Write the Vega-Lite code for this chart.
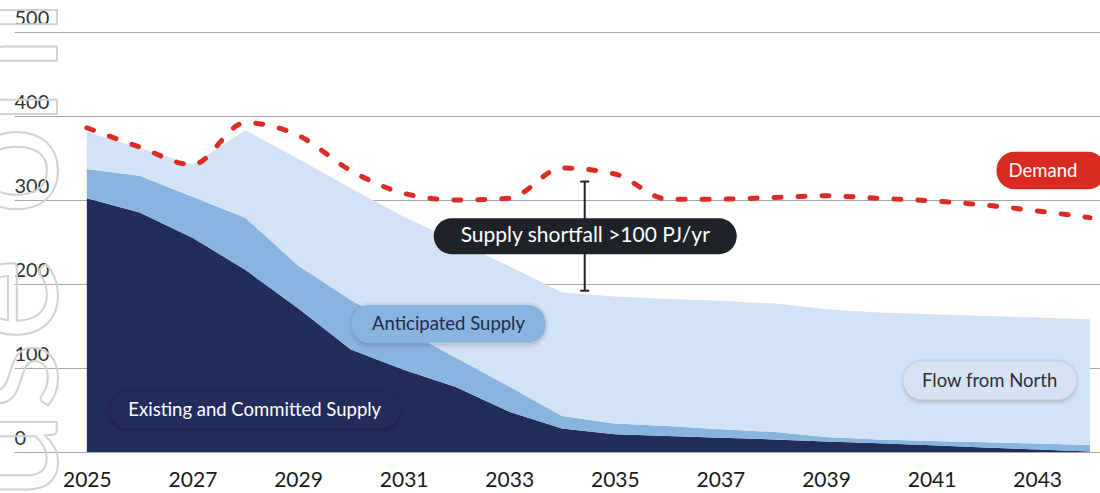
{
  "$schema": "https://vega.github.io/schema/vega-lite/v6.json",
  "width": 1086,
  "height": 420,
  "autosize": {"type": "none"},
  "padding": {"left": 14, "top": 32, "right": 0, "bottom": 41},
  "background": "white",
  "config": {"view": {"stroke": null}, "font": "Lato"},
  "datasets": {
    "supply": [
      {"year": 2025, "series": "Existing and Committed Supply", "value": 302},
      {"year": 2026, "series": "Existing and Committed Supply", "value": 285},
      {"year": 2027, "series": "Existing and Committed Supply", "value": 255},
      {"year": 2028, "series": "Existing and Committed Supply", "value": 217},
      {"year": 2029, "series": "Existing and Committed Supply", "value": 171},
      {"year": 2030, "series": "Existing and Committed Supply", "value": 122},
      {"year": 2031, "series": "Existing and Committed Supply", "value": 98},
      {"year": 2032, "series": "Existing and Committed Supply", "value": 77},
      {"year": 2033, "series": "Existing and Committed Supply", "value": 48},
      {"year": 2034, "series": "Existing and Committed Supply", "value": 28},
      {"year": 2035, "series": "Existing and Committed Supply", "value": 21},
      {"year": 2036, "series": "Existing and Committed Supply", "value": 19},
      {"year": 2037, "series": "Existing and Committed Supply", "value": 17},
      {"year": 2038, "series": "Existing and Committed Supply", "value": 15},
      {"year": 2039, "series": "Existing and Committed Supply", "value": 12.5},
      {"year": 2040, "series": "Existing and Committed Supply", "value": 10.5},
      {"year": 2041, "series": "Existing and Committed Supply", "value": 8},
      {"year": 2042, "series": "Existing and Committed Supply", "value": 5.5},
      {"year": 2043, "series": "Existing and Committed Supply", "value": 3},
      {"year": 2044, "series": "Existing and Committed Supply", "value": 0.5},
      {"year": 2025, "series": "Anticipated Supply", "value": 35},
      {"year": 2026, "series": "Anticipated Supply", "value": 44},
      {"year": 2027, "series": "Anticipated Supply", "value": 49},
      {"year": 2028, "series": "Anticipated Supply", "value": 62},
      {"year": 2029, "series": "Anticipated Supply", "value": 51},
      {"year": 2030, "series": "Anticipated Supply", "value": 59},
      {"year": 2031, "series": "Anticipated Supply", "value": 48},
      {"year": 2032, "series": "Anticipated Supply", "value": 35},
      {"year": 2033, "series": "Anticipated Supply", "value": 30},
      {"year": 2034, "series": "Anticipated Supply", "value": 15},
      {"year": 2035, "series": "Anticipated Supply", "value": 13},
      {"year": 2036, "series": "Anticipated Supply", "value": 12},
      {"year": 2037, "series": "Anticipated Supply", "value": 10},
      {"year": 2038, "series": "Anticipated Supply", "value": 9},
      {"year": 2039, "series": "Anticipated Supply", "value": 5.5},
      {"year": 2040, "series": "Anticipated Supply", "value": 4.5},
      {"year": 2041, "series": "Anticipated Supply", "value": 5},
      {"year": 2042, "series": "Anticipated Supply", "value": 6.2},
      {"year": 2043, "series": "Anticipated Supply", "value": 7},
      {"year": 2044, "series": "Anticipated Supply", "value": 7.8},
      {"year": 2025, "series": "Flow from North", "value": 44},
      {"year": 2026, "series": "Flow from North", "value": 33},
      {"year": 2027, "series": "Flow from North", "value": 38},
      {"year": 2028, "series": "Flow from North", "value": 104},
      {"year": 2029, "series": "Flow from North", "value": 127},
      {"year": 2030, "series": "Flow from North", "value": 133},
      {"year": 2031, "series": "Flow from North", "value": 134},
      {"year": 2032, "series": "Flow from North", "value": 139},
      {"year": 2033, "series": "Flow from North", "value": 143},
      {"year": 2034, "series": "Flow from North", "value": 147},
      {"year": 2035, "series": "Flow from North", "value": 151},
      {"year": 2036, "series": "Flow from North", "value": 151},
      {"year": 2037, "series": "Flow from North", "value": 153},
      {"year": 2038, "series": "Flow from North", "value": 153},
      {"year": 2039, "series": "Flow from North", "value": 152},
      {"year": 2040, "series": "Flow from North", "value": 151},
      {"year": 2041, "series": "Flow from North", "value": 151},
      {"year": 2042, "series": "Flow from North", "value": 150.3},
      {"year": 2043, "series": "Flow from North", "value": 150},
      {"year": 2044, "series": "Flow from North", "value": 149.7}
    ],
    "demand": [
      {"year": 2025, "value": 386},
      {"year": 2026, "value": 363},
      {"year": 2027, "value": 342},
      {"year": 2028, "value": 392},
      {"year": 2029, "value": 377},
      {"year": 2030, "value": 335},
      {"year": 2031, "value": 308},
      {"year": 2032, "value": 300},
      {"year": 2033, "value": 302},
      {"year": 2034, "value": 338},
      {"year": 2035, "value": 331},
      {"year": 2036, "value": 301},
      {"year": 2037, "value": 301},
      {"year": 2038, "value": 303},
      {"year": 2039, "value": 305},
      {"year": 2040, "value": 302},
      {"year": 2041, "value": 299},
      {"year": 2042, "value": 294},
      {"year": 2043, "value": 287},
      {"year": 2044, "value": 279}
    ],
    "badges": [
      {"label": "Supply shortfall >100 PJ/yr", "year_start": 2031.57, "year_end": 2037.31, "low": 235.4, "high": 278.2, "text_year": 2034.44, "text_value": 256.8},
      {"label": "Demand", "year_start": 2042.23, "year_end": 2044.3, "low": 312.7, "high": 357.5, "text_year": 2043.11, "text_value": 335.1},
      {"label": "Flow from North", "year_start": 2040.47, "year_end": 2043.74, "low": 62.7, "high": 107.5, "text_year": 2042.1, "text_value": 85.1},
      {"label": "Anticipated Supply", "year_start": 2030.01, "year_end": 2033.69, "low": 130.1, "high": 175, "text_year": 2031.85, "text_value": 152.6},
      {"label": "Existing and Committed Supply", "year_start": 2025.44, "year_end": 2030.93, "low": 28.2, "high": 71.8, "text_year": 2028.18, "text_value": 50}
    ],
    "gap": [
      {"year": 2034.43, "low": 192, "high": 322}
    ],
    "caps": [
      {"year": 2034.43, "value": 192},
      {"year": 2034.43, "value": 322}
    ],
    "watermark": [
      {"year": 2024.43, "value": -57, "text": "use only"}
    ]
  },
  "encoding": {
    "x": {
      "type": "quantitative",
      "title": null,
      "scale": {"domain": [2023.62, 2044.19], "nice": false, "zero": false},
      "axis": {"values": [2025, 2027, 2029, 2031, 2033, 2035, 2037, 2039, 2041, 2043], "format": "d", "title": null, "grid": false, "domain": false, "ticks": false, "labelFontSize": 21, "labelColor": "#1a1a1a", "labelPadding": 17, "labelFont": "Lato", "labelFlush": false, "labelOverlap": false}
    },
    "y": {
      "type": "quantitative",
      "title": null,
      "scale": {"domain": [0, 500], "nice": false},
      "axis": {"values": [0, 100, 200, 300, 400, 500], "title": null, "grid": true, "gridColor": "#a8a8a8", "gridWidth": 1, "domain": false, "ticks": false, "tickSize": 0, "labelAlign": "left", "labelBaseline": "alphabetic", "labelPadding": 0, "labelOffset": -8, "labelFontSize": 20, "labelColor": "#333333", "labelFont": "Lato", "labelFlush": false, "labelOverlap": false, "labelBound": false}
    }
  },
  "layer": [
    {
      "data": {"name": "watermark"},
      "mark": {"type": "text", "angle": 270, "align": "left", "baseline": "alphabetic", "fontSize": 160, "font": "Lato", "fillOpacity": 0, "stroke": "#d2d2d2", "strokeWidth": 2, "clip": false},
      "encoding": {
        "x": {"field": "year"},
        "y": {"field": "value"},
        "text": {"field": "text"}
      }
    },
    {
      "data": {"name": "supply"},
      "transform": [
        {"calculate": "indexof(['Existing and Committed Supply','Anticipated Supply','Flow from North'], datum.series)", "as": "rank"}
      ],
      "mark": {"type": "area", "interpolate": "linear"},
      "encoding": {
        "x": {"field": "year"},
        "y": {"field": "value", "stack": "zero"},
        "color": {
          "field": "series", "type": "nominal", "legend": null,
          "scale": {"domain": ["Existing and Committed Supply", "Anticipated Supply", "Flow from North"], "range": ["#232d5c", "#8ab4e0", "#d3e2f4"]}
        },
        "order": {"field": "rank", "type": "quantitative", "sort": "ascending"}
      }
    },
    {
      "data": {"name": "demand"},
      "mark": {"type": "line", "interpolate": "monotone", "color": "#dc2b25", "strokeWidth": 5, "strokeDash": [7, 17], "strokeCap": "round"},
      "encoding": {
        "x": {"field": "year"},
        "y": {"field": "value"}
      }
    },
    {
      "data": {"name": "gap"},
      "mark": {"type": "rule", "color": "#1d2329", "strokeWidth": 2},
      "encoding": {
        "x": {"field": "year"},
        "y": {"field": "low"},
        "y2": {"field": "high"}
      }
    },
    {
      "data": {"name": "caps"},
      "mark": {"type": "tick", "orient": "horizontal", "color": "#1d2329", "size": 9, "thickness": 2, "opacity": 1},
      "encoding": {
        "x": {"field": "year"},
        "y": {"field": "value"}
      }
    },
    {
      "data": {"name": "badges"},
      "transform": [{"filter": "datum.label == 'Flow from North' || datum.label == 'Anticipated Supply' || datum.label == 'Existing and Committed Supply'"}],
      "mark": {"type": "rect", "cornerRadius": 18, "fill": "#000000", "fillOpacity": 0.07, "stroke": "#000000", "strokeOpacity": 0.05, "strokeWidth": 5, "yOffset": 3},
      "encoding": {
        "x": {"field": "year_start"},
        "x2": {"field": "year_end"},
        "y": {"field": "low"},
        "y2": {"field": "high"}
      }
    },
    {
      "data": {"name": "badges"},
      "mark": {"type": "rect", "cornerRadius": 18},
      "encoding": {
        "x": {"field": "year_start"},
        "x2": {"field": "year_end"},
        "y": {"field": "low"},
        "y2": {"field": "high"},
        "fill": {
          "field": "label", "type": "nominal", "legend": null,
          "scale": {"domain": ["Supply shortfall >100 PJ/yr", "Demand", "Flow from North", "Anticipated Supply", "Existing and Committed Supply"], "range": ["#1d2329", "#d92b22", "#d5e3f4", "#8ab4e0", "#232d5c"]}
        }
      }
    },
    {
      "data": {"name": "badges"},
      "transform": [{"filter": "datum.label == 'Supply shortfall >100 PJ/yr'"}],
      "mark": {"type": "text", "fontSize": 21, "font": "Lato", "color": "#ffffff", "baseline": "middle", "align": "center"},
      "encoding": {
        "x": {"field": "text_year"},
        "y": {"field": "text_value"},
        "text": {"field": "label"}
      }
    },
    {
      "data": {"name": "badges"},
      "transform": [{"filter": "datum.label == 'Demand' || datum.label == 'Existing and Committed Supply'"}],
      "mark": {"type": "text", "fontSize": 18.5, "font": "Lato", "color": "#ffffff", "baseline": "middle", "align": "center"},
      "encoding": {
        "x": {"field": "text_year"},
        "y": {"field": "text_value"},
        "text": {"field": "label"}
      }
    },
    {
      "data": {"name": "badges"},
      "transform": [{"filter": "datum.label == 'Anticipated Supply'"}],
      "mark": {"type": "text", "fontSize": 18.5, "font": "Lato", "color": "#1f2a4e", "baseline": "middle", "align": "center"},
      "encoding": {
        "x": {"field": "text_year"},
        "y": {"field": "text_value"},
        "text": {"field": "label"}
      }
    },
    {
      "data": {"name": "badges"},
      "transform": [{"filter": "datum.label == 'Flow from North'"}],
      "mark": {"type": "text", "fontSize": 18.5, "font": "Lato", "color": "#2a2f38", "baseline": "middle", "align": "center"},
      "encoding": {
        "x": {"field": "text_year"},
        "y": {"field": "text_value"},
        "text": {"field": "label"}
      }
    }
  ]
}
